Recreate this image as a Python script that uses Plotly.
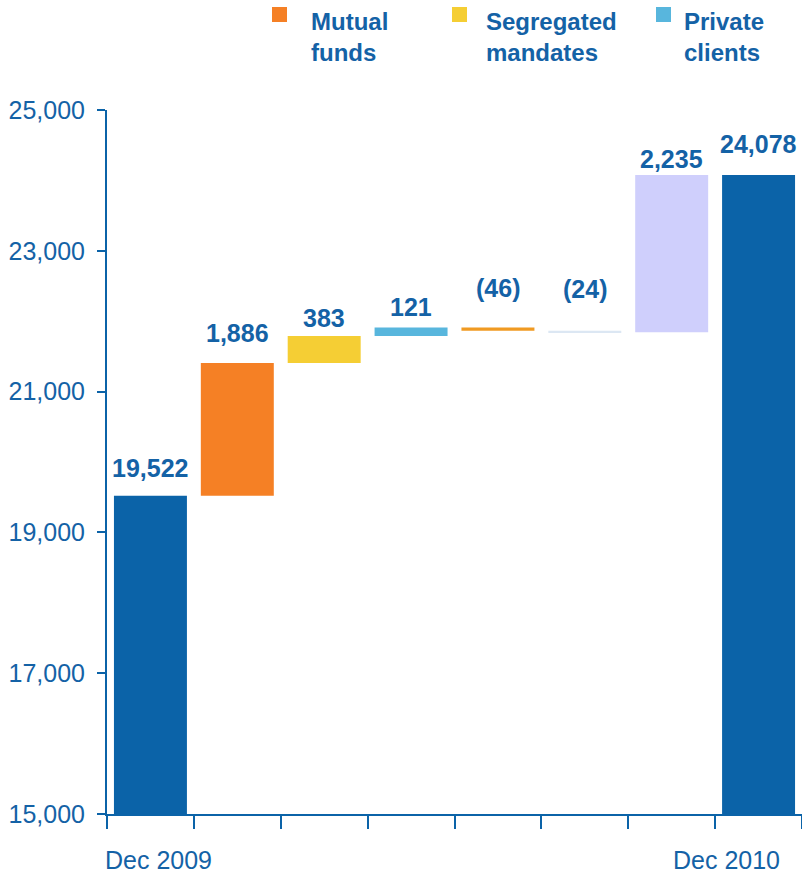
import plotly.graph_objects as go

# data
categories = ["Dec 2009", "Mutual funds", "Segregated mandates", "Private clients",
              "Mutual funds other", "Private clients other", "Other", "Dec 2010"]
start_total = 19522
changes = [1886, 383, 121, -46, -24, 2235]
end_total = 24078
legend_names = ["Mutual<br>funds", "Segregated<br>mandates", "Private<br>clients"]

# styles
BLUE = "#0B63A8"
TXT = "#1462A6"
FONT = "Liberation Sans, Arial"
bar_colors = [BLUE, "#F58025", "#F5CE34", "#58B6DD", "#F09A22", "#DCE7F3", "#CFCFFC", BLUE]
legend_colors = ["#F58025", "#F5CE34", "#58B6DD"]
label_offset_px = [28, 30, 18, 20, 39, 42, 16, 31]  # label centre above bar top

W, H = 802, 876
ML, MR, MT, MB = 107, 0, 110, 62

# build the waterfall pieces
bases, heights = [0], [start_total]
running = start_total
for c in changes:
    if c >= 0:
        bases.append(running)
        heights.append(c)
    else:
        bases.append(running + c)
        heights.append(-c)
    running += c
bases.append(0)
heights.append(end_total)

all_values = [start_total] + changes + [end_total]


def fmt(v):
    return "({:,})".format(-v) if v < 0 else "{:,}".format(v)


fig = go.Figure()
fig.add_trace(go.Bar(
    x=categories, y=heights, base=bases,
    marker=dict(color=bar_colors, line=dict(width=0)),
    width=0.84, showlegend=False, hoverinfo="skip",
))

# value labels
for cat, b, h, v, off in zip(categories, bases, heights, all_values, label_offset_px):
    fig.add_annotation(
        x=cat, y=b + h, xref="x", yref="y", text="<b>" + fmt(v) + "</b>",
        showarrow=False, yanchor="middle", yshift=off,
        font=dict(family=FONT, size=25, color=TXT),
    )

# date labels under the first and last bar
fig.add_annotation(x=categories[0], y=0, xref="x", yref="paper", text=categories[0],
                   showarrow=False, xanchor="left", yanchor="middle", xshift=-47, yshift=-46,
                   font=dict(family=FONT, size=25, color=TXT))
fig.add_annotation(x=categories[-1], y=0, xref="x", yref="paper", text=categories[-1],
                   showarrow=False, xanchor="right", yanchor="middle", xshift=23, yshift=-46,
                   font=dict(family=FONT, size=25, color=TXT))

# legend drawn by hand at the top (positions in window pixels)
pw, ph = W - ML - MR, H - MT - MB


def px_x(p):
    return (p - ML) / pw


def px_y(p):
    return (H - MB - p) / ph


legend_sq_x = [272, 452, 656]
legend_txt_x = [309, 484, 682]
for name, col, sx, tx in zip(legend_names, legend_colors, legend_sq_x, legend_txt_x):
    fig.add_shape(type="rect", xref="paper", yref="paper",
                  x0=px_x(sx), x1=px_x(sx + 15), y0=px_y(22), y1=px_y(7),
                  fillcolor=col, line=dict(width=0))
    fig.add_annotation(
        x=px_x(tx), y=px_y(6), xref="paper", yref="paper",
        text="<b>" + name + "</b>", showarrow=False, xanchor="left", yanchor="top",
        align="left", font=dict(family=FONT, size=24, color=TXT),
    )

fig.update_layout(
    width=W, height=H,
    margin=dict(l=ML, r=MR, t=MT, b=MB),
    plot_bgcolor="white", paper_bgcolor="white",
    xaxis=dict(
        type="category", categoryorder="array", categoryarray=categories,
        tickvals=categories, ticktext=[""] * len(categories), range=[-0.5, 7.5],
        showline=True, linecolor=BLUE, linewidth=2,
        ticks="outside", tickson="boundaries", ticklen=13, tickwidth=2, tickcolor=BLUE,
        showgrid=False, zeroline=False, automargin=False,
    ),
    yaxis=dict(
        range=[15000, 25000], tickvals=list(range(15000, 25001, 2000)), tickformat=",",
        showline=True, linecolor=BLUE, linewidth=2,
        ticks="outside", ticklen=8, tickwidth=2, tickcolor=BLUE,
        tickfont=dict(family=FONT, size=25, color=TXT),
        ticklabelstandoff=7, showgrid=False, zeroline=False, automargin=False,
    ),
)

# drop the default 8px body margin so the figure fills the window exactly
fig.write_html("out.html", config={"displayModeBar": False},
               post_script="document.body.style.margin='0';")
